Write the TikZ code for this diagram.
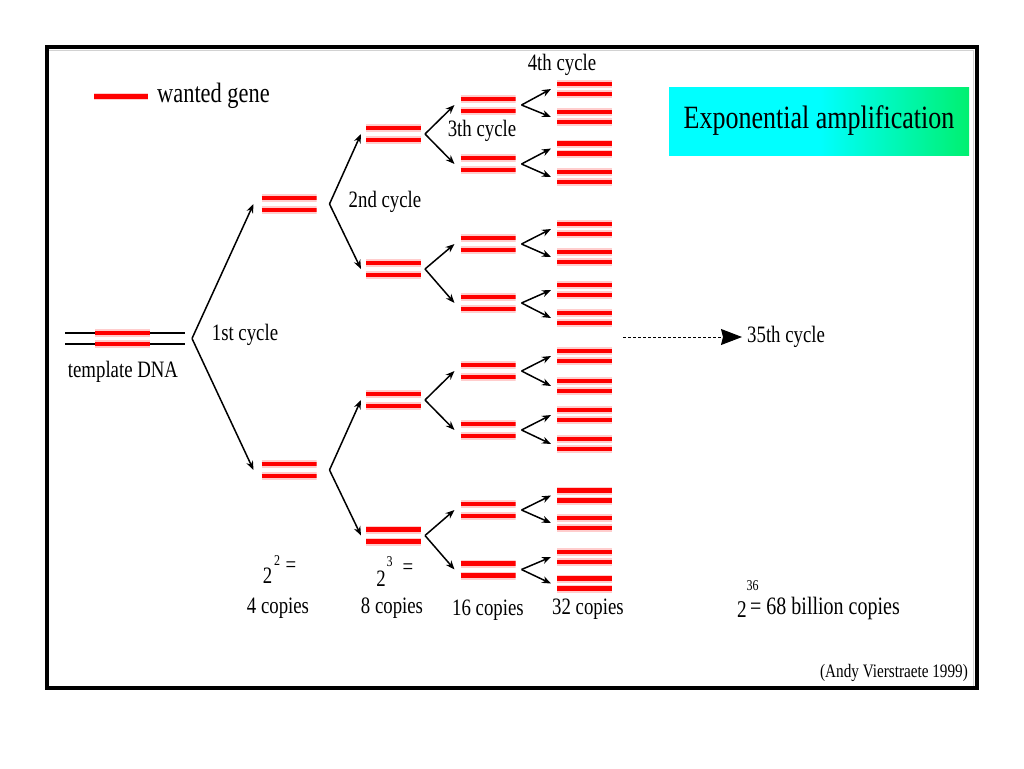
\documentclass[tikz,border=0pt]{standalone}
\usepackage{fontspec}
\setmainfont{Liberation Serif}[FakeStretch=0.8]
\usetikzlibrary{arrows.meta}
\definecolor{genered}{RGB}{255,0,0}
\definecolor{genehalo}{RGB}{255,205,205}
\definecolor{titleright}{RGB}{0,240,112}
\newcommand{\fsz}[1]{\fontsize{#1}{#1}\selectfont}
\tikzset{
  gene/.style={draw=genered, line width=4.5pt},
  halo/.style={draw=genehalo, line width=8pt},
  pair/.style={minimum width=55pt, minimum height=24pt, inner sep=0pt, outer sep=0pt,
    path picture={
      \foreach \s in {-#1,#1}{
        \path[halo] ([yshift=\s]path picture bounding box.west) -- ([yshift=\s]path picture bounding box.east);
        \path[gene] ([yshift=\s]path picture bounding box.west) -- ([yshift=\s]path picture bounding box.east);
      }}},
  arr/.style={line width=1.5pt, -{Stealth[length=9pt,width=7pt]}},
  lbl/.style={inner sep=0pt, font=\fsz{23.5}},
  sup/.style={inner sep=0pt, font=\fsz{15}},
}
\begin{document}
\begin{tikzpicture}[x=1pt,y=-1pt]
\useasboundingbox (0,0) rectangle (1024,768);
\fill[white] (0,0) rectangle (1024,768);
% frame
\draw[gray!35, line width=1.5pt] (49,50.5) -- (973.5,50.5) -- (973.5,686);
\draw[line width=4pt] (47,47) rectangle (977,688);

% legend
\path[halo, line width=7pt] (94,96) -- (148,96);
\path[gene, line width=5pt] (94,96) -- (148,96);
\node[inner sep=0pt, anchor=west, font=\fsz{28}] (legend) at (157,96) {wanted gene};

% title
\shade[left color=cyan, right color=titleright, middle color=cyan] (669,87) rectangle (969,155);
\node[inner sep=0pt, font=\fsz{32.5}] (title) at (819,121) {Exponential amplification};

% template DNA
\node[minimum width=120pt, minimum height=22pt, inner sep=0pt, outer sep=0pt,
  path picture={
    \foreach \s in {-5.5pt,5.5pt}{
      \draw[line width=1.6pt] ([yshift=\s]path picture bounding box.west) -- ([yshift=\s]path picture bounding box.east);
      \path[halo] ([shift={(30pt,\s)}]path picture bounding box.west) -- ([shift={(85pt,\s)}]path picture bounding box.west);
      \path[gene] ([shift={(30pt,\s)}]path picture bounding box.west) -- ([shift={(85pt,\s)}]path picture bounding box.west);
    }}] (tmpl) at (125,338.5) {};
\node[lbl] (tmpllbl) at (123,372) {template DNA};

% level 1
\node[pair=6pt] (a1) at (289,204) {};
\node[pair=6pt] (a2) at (289,470) {};
% level 2
\node[pair=6pt] (b1) at (393.5,134) {};
\node[pair=6pt] (b2) at (393.5,269) {};
\node[pair=6pt] (b3) at (393.5,400) {};
\node[pair=6pt] (b4) at (393.5,535.5) {};
% level 3
\foreach \i/\y in {1/105,2/164,3/244,4/303,5/371,6/430,7/510,8/569.5}
  \node[pair=6pt] (c\i) at (488,\y) {};
% level 4
\foreach \i/\y in {1/89,2/117,3/148.5,4/177,5/229,6/257,7/290,8/318,9/356,10/386,11/415,12/444,13/495.5,14/523,15/557,16/583.5}
  \node[pair=5pt] (d\i) at (584.5,\y) {};

% arrows
\foreach \c in {a1,a2}
  \draw[arr] ([xshift=7pt]tmpl.east) -- ([xshift=-8pt]\c.west);
\draw[arr] ([xshift=13pt]a1.east) -- ([xshift=-5pt]b1.west);
\draw[arr] ([xshift=13pt]a1.east) -- ([xshift=-5pt]b2.west);
\draw[arr] ([xshift=13pt]a2.east) -- ([xshift=-5pt]b3.west);
\draw[arr] ([xshift=13pt]a2.east) -- ([xshift=-5pt]b4.west);
\foreach \p/\q/\r in {b1/c1/c2,b2/c3/c4,b3/c5/c6,b4/c7/c8}{
  \draw[arr] ([xshift=4pt]\p.east) -- ([xshift=-6pt]\q.west);
  \draw[arr] ([xshift=4pt]\p.east) -- ([xshift=-6pt]\r.west);
}
\foreach \p/\q/\r in {c1/d1/d2,c2/d3/d4,c3/d5/d6,c4/d7/d8,c5/d9/d10,c6/d11/d12,c7/d13/d14,c8/d15/d16}{
  \draw[arr] ([xshift=6pt]\p.east) -- ([xshift=-6pt]\q.west);
  \draw[arr] ([xshift=6pt]\p.east) -- ([xshift=-6pt]\r.west);
}

% cycle labels
\node[lbl] (cyc1) at (245,335) {1st cycle};
\node[lbl] (cyc2) at (385,202) {2nd cycle};
\node[lbl] (cyc3) at (482,131) {3th cycle};
\node[lbl] (cyc4) at (562,65) {4th cycle};
\node[lbl, anchor=west] (cyc35) at (747,337) {35th cycle};
\coordinate (dstart) at (623,337);
\draw[line width=1pt, dash pattern=on 3pt off 2pt, -{Stealth[length=21pt,width=16pt,inset=2pt]}, shorten >=5pt] (dstart) -- (cyc35.west |- dstart);

% copies
\node[lbl] (n4) at (278,608) {4 copies};
\node[lbl] (n8) at (392,608) {8 copies};
\node[lbl] (n16) at (488,610) {16 copies};
\node[lbl] (n32) at (588,609) {32 copies};
\node[lbl] (e2b) at (267.5,576) {2};
\node[sup] (e2s) at (277,561) {2};
\node[lbl] (e2eq) at (291,567) {=};
\node[lbl] (e3b) at (381,579) {2};
\node[sup] (e3s) at (389.5,562) {3};
\node[lbl] (e3eq) at (408,569) {=};
\node[inner sep=0pt, font=\fsz{24}] (e36b) at (742,610) {2};
\node[sup] (e36s) at (752.5,586) {36};
\node[inner sep=0pt, anchor=west, font=\fsz{25}] (bil) at (750,608) {= 68 billion copies};

% credit
\node[inner sep=0pt, font=\fsz{19}] (credit) at (894,673) {(Andy Vierstraete 1999)};
\end{tikzpicture}
\end{document}
